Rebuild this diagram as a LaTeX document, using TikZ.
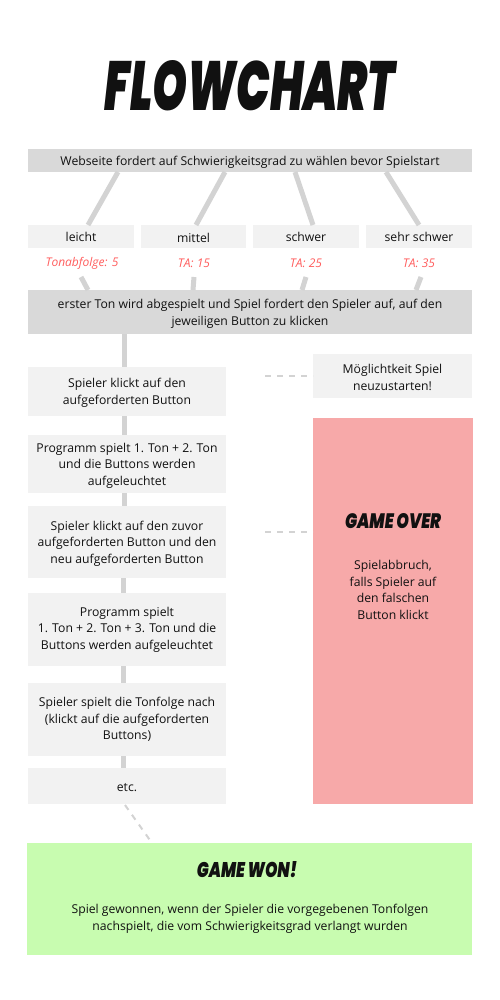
\documentclass[tikz,border=0pt]{standalone}
\usepackage{fontspec}
\setmainfont{Open Sans}
\newfontfamily\brushfont{Poppins}[UprightFont=*-Black,ItalicFont=*-BlackItalic,BoldFont=*-Black,BoldItalicFont=*-BlackItalic]
\usetikzlibrary{positioning}
\definecolor{boxdark}{HTML}{D9D9D9}
\definecolor{boxlight}{HTML}{F2F2F2}
\definecolor{linegray}{HTML}{D3D3D3}
\definecolor{labelred}{HTML}{FF5E5E}
\definecolor{overpink}{HTML}{F7A9A9}
\definecolor{wongreen}{HTML}{C8FCB0}
\definecolor{txt}{HTML}{111111}
\begin{document}
\begin{tikzpicture}[x=1pt,y=-1pt,
  every node/.style={inner sep=0pt,outer sep=0pt,text=txt,font=\fontsize{12.2}{16.6}\selectfont,align=center},
  lbl/.style={yshift=-1.5pt},
  boxd/.style={fill=boxdark,anchor=north west},
  boxl/.style={fill=boxlight,anchor=north west},
  conn/.style={draw=linegray,line width=5pt},
  dconn/.style={draw=linegray,line width=2pt,dash pattern=on 6pt off 6pt},
  redlbl/.style={text=labelred,font=\fontsize{12}{14}\selectfont\itshape},
  brush/.style={font=\brushfont\itshape}
]
\useasboundingbox (0,0) rectangle (500,1000);
\fill[white] (0,0) rectangle (500,1000);
% title
\node[brush] (title) at (250,86) {\resizebox{290pt}{50pt}{FLOWCHART}};
% top box
\node[boxd,minimum width=444pt,minimum height=23pt] (top) at (28,149) {};
\node[lbl] at (top.center) {Webseite fordert auf Schwierigkeitsgrad zu wählen bevor Spielstart};
% options
\node[boxl,minimum width=106pt,minimum height=23pt] (o1) at (28,225) {};
\node[boxl,minimum width=105pt,minimum height=23pt] (o2) at (141,225) {};
\node[boxl,minimum width=106pt,minimum height=23pt] (o3) at (253,225) {};
\node[boxl,minimum width=106pt,minimum height=23pt] (o4) at (366,225) {};
\node at ([yshift=-0.5pt]o1.center) {leicht};
\node at ([yshift=-1.5pt]o2.center) {mittel};
\node at ([yshift=-0.5pt]o3.center) {schwer};
\node at ([yshift=-0.5pt]o4.center) {sehr schwer};
% connectors top -> options
\coordinate (t1) at (118,172); \coordinate (b1) at (88,225);
\coordinate (t2) at (225,172); \coordinate (b2) at (196,225);
\coordinate (t3) at (295,172); \coordinate (b3) at (313,225);
\coordinate (t4) at (386,172); \coordinate (b4) at (419,225);
\draw[conn] (t1) -- (b1);
\draw[conn] (t2) -- (b2);
\draw[conn] (t3) -- (b3);
\draw[conn] (t4) -- (b4);
% red labels
\node[redlbl] (l1) at (82,263) {Tonabfolge: 5};
\node[redlbl] (l2) at (194,263) {TA: 15};
\node[redlbl] (l3) at (306,263) {TA: 25};
\node[redlbl] (l4) at (419,263) {TA: 35};
% second box
\node[boxd,minimum width=444pt,minimum height=44pt] (second) at (28,290) {};
\node[lbl] at (second.center) {erster Ton wird abgespielt und Spiel fordert den Spieler auf, auf den\\jeweiligen Button zu klicken};
\coordinate (u1) at (81,277); \coordinate (v1) at (88,290);
\coordinate (u2) at (194,277); \coordinate (v2) at (193,290);
\coordinate (u3) at (306,277); \coordinate (v3) at (302,290);
\coordinate (u4) at (421,277); \coordinate (v4) at (416,290);
\draw[conn] (u1) -- (v1);
\draw[conn] (u2) -- (v2);
\draw[conn] (u3) -- (v3);
\draw[conn] (u4) -- (v4);
% left column
\node[boxl,minimum width=198pt,minimum height=49pt] (s1) at (28,367) {};
\node[lbl] at (s1.center) {Spieler klickt auf den\\aufgeforderten Button};
\node[boxl,minimum width=198pt,minimum height=58pt] (s2) at (28,435) {};
\node[lbl] at (s2.center) {Programm spielt 1. Ton + 2. Ton\\und die Buttons werden\\aufgeleuchtet};
\node[boxl,minimum width=198pt,minimum height=72pt] (s3) at (28,506) {};
\node[lbl] at (s3.center) {Spieler klickt auf den zuvor\\aufgeforderten Button und den\\neu aufgeforderten Button};
\node[boxl,minimum width=198pt,minimum height=73pt] (s4) at (28,593) {};
\node at (s4.center) {Programm spielt\\1. Ton + 2. Ton + 3. Ton und die\\Buttons werden aufgeleuchtet};
\node[boxl,minimum width=198pt,minimum height=73pt] (s5) at (28,683) {};
\node at (s5.center) {Spieler spielt die Tonfolge nach\\(klickt auf die aufgeforderten\\Buttons)};
\node[boxl,minimum width=198pt,minimum height=36pt] (s6) at (28,768) {};
\node[lbl] at (s6.center) {etc.};
\draw[conn] (second.south -| 124,0) -- (s1.north -| 124,0);
\draw[conn] (s1.south -| 124,0) -- (s2.north -| 124,0);
\draw[conn] (s2.south -| 124,0) -- (s3.north -| 124,0);
\draw[conn] (s3.south -| 123,0) -- (s4.north -| 123,0);
\draw[conn] (s4.south -| 123,0) -- (s5.north -| 123,0);
\draw[conn] (s5.south -| 123,0) -- (s6.north -| 123,0);
% right column
\node[boxl,minimum width=159pt,minimum height=44pt] (restart) at (313,354) {};
\node[lbl] at (restart.center) {Möglichtkeit Spiel\\neuzustarten!};
\node[fill=overpink,anchor=north west,minimum width=160pt,minimum height=386pt] (over) at (313,418) {};
\node[brush] (overtitle) at (393,521) {\resizebox{96pt}{15pt}{GAME OVER}};
\node (overtext) at (393,590) {Spielabbruch,\\falls Spieler auf\\den falschen\\Button klickt};
\coordinate (d1) at (265,376);
\coordinate (d2) at (265,532);
\draw[dconn] (d1) -- (restart.west |- d1);
\draw[dconn] (d2) -- (over.west |- d2);
% game won
\node[fill=wongreen,anchor=north west,minimum width=445pt,minimum height=112pt] (won) at (27,843) {};
\node[brush] (wontitle) at (247,870) {\resizebox{100pt}{16pt}{GAME WON!}};
\node (wontext) at (250,918.5) {Spiel gewonnen, wenn der Spieler die vorgegebenen Tonfolgen\\nachspielt, die vom Schwierigkeitsgrad verlangt wurden};
\coordinate (e1) at (125,805);
\coordinate (e2) at (152,843);
\draw[dconn] (e1) -- (e2);
\end{tikzpicture}
\end{document}
